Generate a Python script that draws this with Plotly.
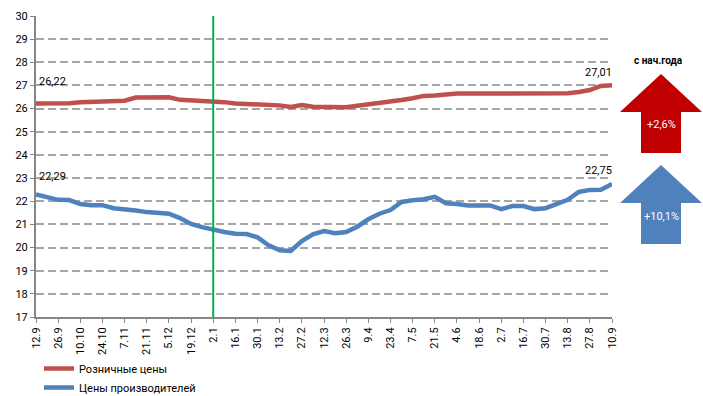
import plotly.graph_objects as go

# Weekly observation dates (day.month)
weeks = [
    "12.9", "19.9", "26.9", "3.10", "10.10", "17.10", "24.10", "31.10",
    "7.11", "14.11", "21.11", "28.11", "5.12", "12.12", "19.12", "26.12",
    "2.1", "9.1", "16.1", "23.1", "30.1", "6.2", "13.2", "20.2", "27.2",
    "5.3", "12.3", "19.3", "26.3", "2.4", "9.4", "16.4", "23.4", "30.4",
    "7.5", "14.5", "21.5", "28.5", "4.6", "11.6", "18.6", "25.6", "2.7",
    "9.7", "16.7", "23.7", "30.7", "6.8", "13.8", "20.8", "27.8", "3.9", "10.9",
]

retail = [
    26.22, 26.22, 26.22, 26.23, 26.27, 26.28, 26.32, 26.33, 26.34, 26.48,
    26.49, 26.49, 26.49, 26.38, 26.36, 26.30, 26.28, 26.28, 26.22, 26.20,
    26.15, 26.15, 26.14, 26.07, 26.15, 26.08, 26.06, 26.05, 26.06, 26.12,
    26.18, 26.21, 26.28, 26.37, 26.45, 26.55, 26.57, 26.63, 26.65, 26.65,
    26.65, 26.65, 26.65, 26.65, 26.65, 26.65, 26.65, 26.65, 26.66, 26.72,
    26.80, 26.98, 27.01,
]

producer = [
    22.29, 22.15, 22.06, 22.05, 21.88, 21.83, 21.83, 21.70, 21.66, 21.60,
    21.53, 21.51, 21.46, 21.27, 21.02, 20.88, 20.77, 20.67, 20.60, 20.58,
    20.44, 20.10, 19.88, 19.85, 20.28, 20.57, 20.71, 20.62, 20.67, 20.90,
    21.22, 21.46, 21.62, 21.97, 22.04, 22.09, 22.19, 21.91, 21.88, 21.82,
    21.82, 21.82, 21.66, 21.79, 21.79, 21.66, 21.70, 21.88, 22.06, 22.40,
    22.49, 22.50, 22.75,
]

series_names = ["Розничные цены", "Цены производителей"]
ytick_values = list(range(17, 31))
year_marker = "2.1"
ytd_changes = ["+2,6%", "+10,1%"]
ytd_title = "с нач.года"

RED = "#c0504d"
BLUE = "#4f81bd"
FONT = "Roboto, 'Noto Sans', sans-serif"

W, H = 703, 396
L, R, T, B = 36, 612, 16, 317


def px(x):
    return (x - L) / (R - L)


def py(y):
    return (B - y) / (B - T)


def fmt(v):
    return f"{v:.2f}".replace(".", ",")


x_idx = list(range(len(weeks)))

fig = go.Figure()
fig.add_trace(go.Scatter(x=x_idx, y=retail, mode="lines", name=series_names[0],
                         line=dict(color=RED, width=4.5)))
fig.add_trace(go.Scatter(x=x_idx, y=producer, mode="lines", name=series_names[1],
                         line=dict(color=BLUE, width=4.5)))

# vertical marker at the start of the year
mi = weeks.index(year_marker)
fig.add_shape(type="line", x0=mi, x1=mi, y0=17, y1=30, xref="x", yref="y",
              line=dict(color="#00b050", width=2))

# value labels at the ends of each series
ann = []
ann.append(dict(x=0, y=retail[0], text=fmt(retail[0]), xanchor="left", yanchor="bottom",
                xshift=1, yshift=14, showarrow=False))
ann.append(dict(x=0, y=producer[0], text=fmt(producer[0]), xanchor="left", yanchor="bottom",
                xshift=1, yshift=10, showarrow=False))
ann.append(dict(x=len(weeks) - 1, y=retail[-1], text=fmt(retail[-1]), xanchor="right",
                yanchor="bottom", xshift=2, yshift=4, showarrow=False))
ann.append(dict(x=len(weeks) - 1, y=producer[-1], text=fmt(producer[-1]), xanchor="right",
                yanchor="bottom", xshift=2, yshift=5, showarrow=False))
for a in ann:
    a["font"] = dict(family=FONT, size=11, color="#000000")

# year-to-date arrows
def arrow_path(cx, tip, head_base, bottom, head_half, shaft_half):
    pts = [
        (cx, tip),
        (cx + head_half, head_base),
        (cx + shaft_half, head_base),
        (cx + shaft_half, bottom),
        (cx - shaft_half, bottom),
        (cx - shaft_half, head_base),
        (cx - head_half, head_base),
    ]
    return "M " + " L ".join(f"{px(a):.5f},{py(b):.5f}" for a, b in pts) + " Z"


arrows = [
    dict(cx=661, tip=74, head_base=112, bottom=153, color="#c00000", text_y=124),
    dict(cx=661, tip=165, head_base=203, bottom=244, color=BLUE, text_y=216),
]
for a, label in zip(arrows, ytd_changes):
    fig.add_shape(type="path", xref="paper", yref="paper",
                  path=arrow_path(a["cx"], a["tip"], a["head_base"], a["bottom"], 41, 20),
                  fillcolor=a["color"], line=dict(width=0))
    ann.append(dict(x=px(a["cx"]), y=py(a["text_y"]), xref="paper", yref="paper",
                    text=label, showarrow=False, xanchor="center", yanchor="middle",
                    font=dict(family=FONT, size=11, color="#ffffff")))

ann.append(dict(x=px(658), y=py(61), xref="paper", yref="paper", text="<b>" + ytd_title + "</b>",
                showarrow=False, xanchor="center", yanchor="middle",
                font=dict(family=FONT, size=10, color="#000000")))

fig.update_layout(
    width=W, height=H,
    margin=dict(l=L, r=W - R, t=T, b=H - B, autoexpand=False),
    paper_bgcolor="white", plot_bgcolor="white",
    font=dict(family=FONT, size=11, color="#000000"),
    annotations=ann,
    showlegend=True,
    legend=dict(x=px(39), y=py(354), xanchor="left", yanchor="top",
                orientation="v", font=dict(family=FONT, size=11),
                tracegroupgap=0, bgcolor="rgba(0,0,0,0)"),
)

fig.update_xaxes(
    range=[0, len(weeks) - 1],
    tickmode="array",
    tickvals=x_idx[::2],
    ticktext=weeks[::2],
    tickangle=-90,
    showgrid=False,
    showline=True, linecolor="#868686", linewidth=2,
    ticks="outside", ticklen=4, tickcolor="#868686", tickwidth=1,
    tickfont=dict(family=FONT, size=11, color="#000000"),
    zeroline=False,
)
fig.update_yaxes(
    range=[17, 30],
    tickmode="array", tickvals=ytick_values,
    showgrid=True, gridcolor="#a6a6a6", gridwidth=1.5, griddash="8px,4px",
    showline=True, linecolor="#868686", linewidth=2,
    ticks="outside", ticklen=4, tickcolor="#868686", tickwidth=1,
    tickfont=dict(family=FONT, size=11, color="#000000"),
    zeroline=False,
)

fig.write_html("out.html")
